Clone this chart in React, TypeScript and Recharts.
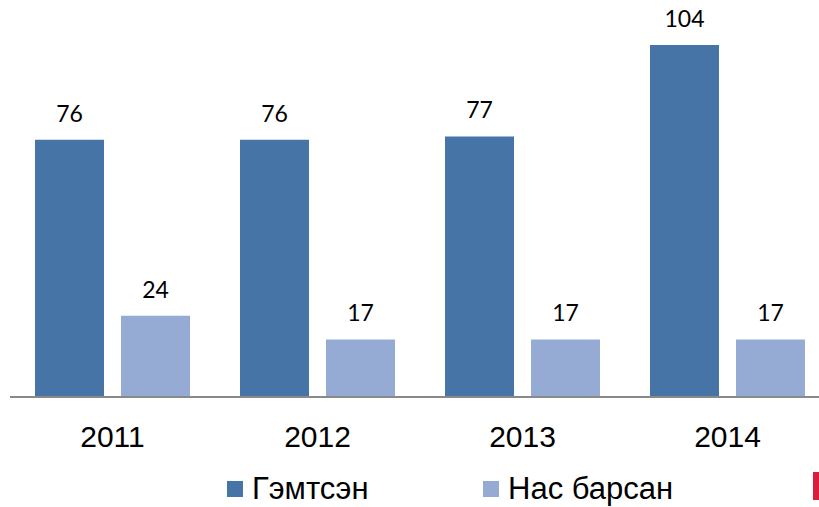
import React from 'react';
import { BarChart, Bar, XAxis, YAxis, Legend, LabelList } from 'recharts';

const years = ['2011', '2012', '2013', '2014'];
const injured = [76, 76, 77, 104];
const died = [24, 17, 17, 17];

const SERIES = [
  { key: 'injured', name: 'Гэмтсэн', color: '#4674A7' },
  { key: 'died', name: 'Нас барсан', color: '#95ABD3' },
];

const data = years.map((year, i) => ({ year, injured: injured[i], died: died[i] }));

const renderLegend = () => (
  <div style={{ position: 'relative', height: 50, fontFamily: '"Liberation Sans", Arial, sans-serif' }}>
    {SERIES.map((s, i) => (
      <div
        key={s.key}
        style={{
          position: 'absolute',
          left: i === 0 ? 217 : 473,
          top: 14,
          display: 'flex',
          alignItems: 'center',
          gap: 9,
          fontSize: 31,
          lineHeight: '36px',
          color: '#000',
          whiteSpace: 'nowrap',
        }}
      >
        <span style={{ width: 16, height: 16, background: s.color, display: 'inline-block' }} />
        <span>{s.name}</span>
      </div>
    ))}
  </div>
);

export default function App() {
  return (
    <div style={{ position: 'absolute', left: 0, top: 0, width: 819, height: 507, overflow: 'hidden', background: '#fff' }}>
      <BarChart
        width={830}
        height={507}
        data={data}
        margin={{ top: 45, right: 0, left: 10, bottom: 0 }}
        barCategoryGap={25}
        barGap={17}
      >
        <XAxis
          dataKey="year"
          axisLine={{ stroke: '#898989', strokeWidth: 2 }}
          tickLine={false}
          height={60}
          tick={{ fontSize: 30, fill: '#000', fontFamily: '"Liberation Sans", Arial, sans-serif' }}
          tickMargin={23}
        />
        <YAxis hide domain={[0, 104]} />
        <Legend verticalAlign="bottom" height={50} content={renderLegend} />
        {SERIES.map((s) => (
          <Bar key={s.key} dataKey={s.key} name={s.name} fill={s.color} barSize={69} isAnimationActive={false}>
            <LabelList
              dataKey={s.key}
              position="top"
              offset={18}
              style={{ fontSize: 23, fill: '#000', fontFamily: 'Lato, "Liberation Sans", sans-serif' }}
            />
          </Bar>
        ))}
      </BarChart>
      <div style={{ position: 'absolute', left: 813, top: 472, width: 6, height: 28, background: '#D81E3C' }} />
    </div>
  );
}
